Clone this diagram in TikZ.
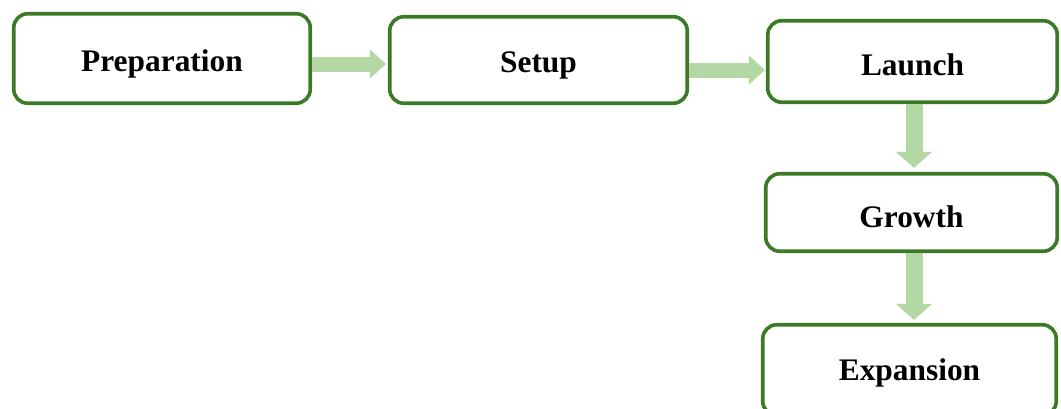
\documentclass[tikz,border=0pt]{standalone}
\usepackage{fontspec}
\setmainfont{Liberation Serif}
\usetikzlibrary{arrows.meta}
\definecolor{boxgreen}{HTML}{3D7A27}
\definecolor{arrowgreen}{HTML}{B4D8A4}
\tikzset{
  stagebox/.style={draw=boxgreen, line width=1.8pt, rounded corners=7pt, fill=white,
    inner sep=0pt, text height=13pt, text depth=0pt,
    font=\bfseries\fontsize{15.7}{18}\selectfont, text=black},
  harrow/.style={draw=arrowgreen, line width=7.5pt,
    -{Triangle[width=14pt,length=8pt]}},
  varrow/.style={draw=arrowgreen, line width=8.5pt,
    -{Triangle[width=17.5pt,length=8pt]}}
}
\begin{document}
\begin{tikzpicture}[x=0.5pt,y=-0.5pt]
\path[use as bounding box, clip] (0,0) rectangle (1061,408);
\node[stagebox, minimum width=148.25pt, minimum height=44.75pt] (prep) at (162,58.5) {Preparation};
\node[stagebox, minimum width=148.75pt, minimum height=43.25pt, text height=12pt] (setup) at (538.5,60) {Setup};
\node[stagebox, minimum width=144.75pt, minimum height=40.75pt, text height=13.5pt] (launch) at (912.5,61.5) {Launch};
\node[stagebox, minimum width=145.75pt, minimum height=38.75pt, text height=14.5pt] (growth) at (911.5,212.5) {Growth};
\node[stagebox, minimum width=146.75pt, minimum height=45.25pt, text height=10pt] (expansion) at (909.5,370) {Expansion};
\draw[harrow, shorten >=1pt] (prep.east |- 0,64) -- (setup.west |- 0,64);
\draw[harrow, shorten >=0.5pt] (setup.east |- 0,70) -- (launch.west |- 0,70);
\draw[varrow, shorten >=2pt] (launch.south -| 914,0) -- (growth.north -| 914,0);
\draw[varrow, shorten >=1.5pt] (growth.south -| 914,0) -- (expansion.north -| 914,0);
\end{tikzpicture}
\end{document}
